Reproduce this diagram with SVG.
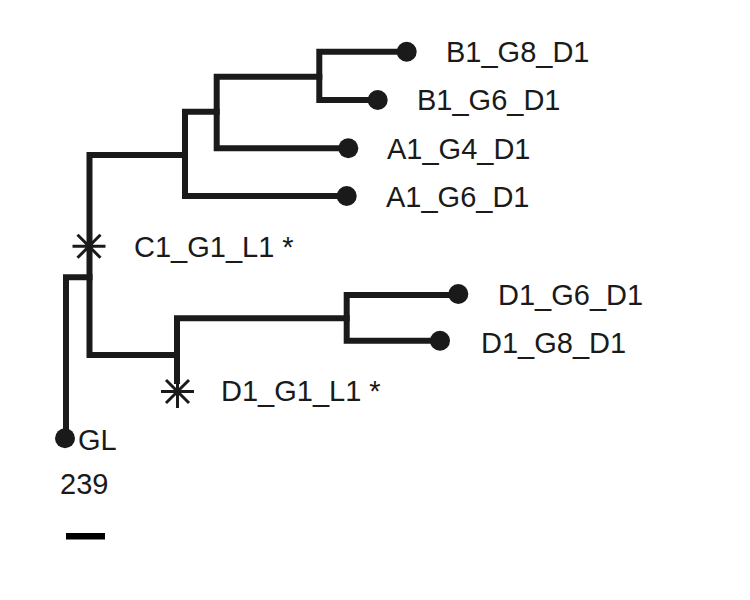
<svg xmlns="http://www.w3.org/2000/svg" width="750" height="600" viewBox="0 0 750 600">
<style>
.e{fill:none;stroke:#1a1a1a;stroke-width:6;stroke-linecap:square;stroke-linejoin:miter}
.leaf{fill:#1a1a1a}
.t{font-family:"Liberation Sans",Arial,sans-serif;font-size:29px;fill:#1a1a1a}
.ast{stroke:#1a1a1a;stroke-width:3;fill:none}
</style>
<defs>
<path id="star" class="ast" d="M-16.5,0H16.5M0,-16.5V16.5M-11.5,-11.5L11.5,11.5M11.5,-11.5L-11.5,11.5"/>
</defs>
<rect width="750" height="600" fill="#ffffff"/>
<g id="connectors">
<path class="e" d="M406.7,51.7 H319.3 V100 H377.7"/>
<path class="e" d="M319.3,76.7 H216.7 V148.3 H348.3"/>
<path class="e" d="M216.7,111.7 H185 V196 H346.7"/>
<path class="e" d="M185,155 H89.5 V355 H177"/>
<path class="e" d="M89.5,277.3 H66 V438"/>
<path class="e" d="M177,381 V318.3 H346.7"/>
<path class="e" d="M458.3,295 H346.7 V340.7 H440"/>
</g>
<g id="B1_G8_D1"><circle class="leaf" cx="406.7" cy="51.7" r="10"/><text class="t" x="446" y="62">B1_G8_D1</text></g>
<g id="B1_G6_D1"><circle class="leaf" cx="377.7" cy="100" r="10"/><text class="t" x="417" y="110">B1_G6_D1</text></g>
<g id="A1_G4_D1"><circle class="leaf" cx="348.3" cy="148.3" r="10"/><text class="t" x="387" y="159">A1_G4_D1</text></g>
<g id="A1_G6_D1"><circle class="leaf" cx="346.7" cy="196" r="10"/><text class="t" x="386" y="207">A1_G6_D1</text></g>
<g id="C1_G1_L1"><use href="#star" transform="translate(89,246.3)"/><text class="t" x="134" y="257">C1_G1_L1 *</text></g>
<g id="D1_G6_D1"><circle class="leaf" cx="458.3" cy="294" r="10"/><text class="t" x="498" y="305">D1_G6_D1</text></g>
<g id="D1_G8_D1"><circle class="leaf" cx="440" cy="340.7" r="10"/><text class="t" x="481" y="353">D1_G8_D1</text></g>
<g id="D1_G1_L1"><use href="#star" transform="translate(177.5,391.5)"/><text class="t" x="221" y="401">D1_G1_L1 *</text></g>
<g id="GL"><circle class="leaf" cx="65" cy="438.3" r="10"/><text class="t" x="78" y="450">GL</text></g>
<g id="scale"><text class="t" x="60" y="494">239</text><rect x="66" y="533" width="39" height="6.5" fill="#000"/></g>
</svg>
